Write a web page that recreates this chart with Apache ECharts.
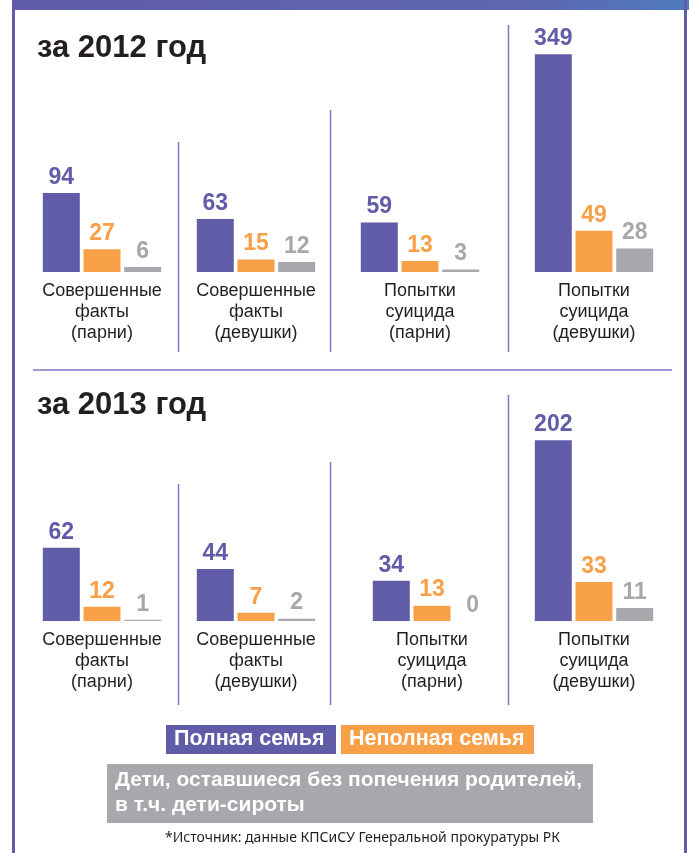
<!DOCTYPE html>
<html lang="ru">
<head>
    <meta charset="UTF-8">
    <title>за 2012 / 2013 год</title>
    <script src="https://cdn.jsdelivr.net/npm/echarts@6/dist/echarts.min.js"></script>
</head>
<body style="padding: 0; margin: 0; background: #fff">
    <div id="main" style="width: 689px; height: 853px;"></div>
</body>
<script>
    // categories (one small chart per category)
    var categories = [
        'Совершенные\nфакты\n(парни)',
        'Совершенные\nфакты\n(девушки)',
        'Попытки\nсуицида\n(парни)',
        'Попытки\nсуицида\n(девушки)'
    ];
    var seriesNames = ['Полная семья', 'Неполная семья', 'Дети, оставшиеся без попечения родителей,\nв т.ч. дети-сироты'];

    var full2012 = [94, 63, 59, 349];
    var partial2012 = [27, 15, 13, 49];
    var orphans2012 = [6, 12, 3, 28];

    var full2013 = [62, 44, 34, 202];
    var partial2013 = [12, 7, 13, 33];
    var orphans2013 = [1, 2, 0, 11];

    var colors = ['#615ca8', '#f8a047', '#a7a8ab'];
    var font = '"Liberation Sans", Arial, sans-serif';

    var myChart = echarts.init(document.getElementById('main'));

    // panel layout: bar baseline, grid top, axis max, centers of groups, break on the tall group
    var panels = [
        {data: [full2012, partial2012, orphans2012], base: 272, top: 40, max: 276,
            centers: [102, 256, 420, 594], brk: {start: 100, end: 190}},
        {data: [full2013, partial2013, orphans2013], base: 621, top: 400, max: 187,
            centers: [102, 256, 432, 594], brk: {start: 50, end: 99}}
    ];

    var grids = [], xAxes = [], yAxes = [], series = [];
    panels.forEach(function (p) {
        for (var c = 0; c < categories.length; c++) {
            var idx = grids.length;
            var last = c === categories.length - 1;
            grids.push({left: p.centers[c] - 70, width: 140, top: p.top, bottom: 853 - p.base});
            xAxes.push({
                type: 'category', gridIndex: idx, data: [categories[c]],
                axisLine: {show: false}, axisTick: {show: false},
                axisLabel: {interval: 0, margin: 9, fontSize: 18, lineHeight: 21, color: '#231f20', fontFamily: font}
            });
            var y = {type: 'value', gridIndex: idx, min: 0, show: false, splitLine: {show: false}};
            if (last) {
                // the tall bar is drawn on a broken scale, like in the original
                y.max = p.max + (p.brk.end - p.brk.start);
                y.breaks = [{start: p.brk.start, end: p.brk.end, gap: 0}];
                y.breakArea = {show: false};
            } else {
                y.max = p.max;
            }
            yAxes.push(y);
            for (var s = 0; s < 3; s++) {
                series.push({
                    name: seriesNames[s], type: 'bar', xAxisIndex: idx, yAxisIndex: idx,
                    barWidth: 37, barGap: '10%',
                    itemStyle: {color: colors[s]},
                    label: {show: true, position: 'top', distance: 4, color: colors[s],
                        fontSize: 23, fontWeight: 'bold', fontFamily: font},
                    data: [p.data[s][c]]
                });
            }
        }
    });

    var divider = '#7d77c2';
    function vline(x, y1, y2) {
        return {type: 'line', shape: {x1: x, y1: y1, x2: x, y2: y2}, style: {stroke: divider, lineWidth: 1.5}};
    }

    var option = {
        animation: false,
        grid: grids,
        xAxis: xAxes,
        yAxis: yAxes,
        series: series,
        graphic: [
            // frame
            {type: 'rect', shape: {x: 12, y: 0, width: 677, height: 10},
                style: {fill: new echarts.graphic.LinearGradient(0, 0, 1, 0, [
                    {offset: 0, color: '#615ca8'}, {offset: 0.75, color: '#5d66ae'}, {offset: 1, color: '#4f7bbf'}])}},
            {type: 'rect', shape: {x: 12, y: 0, width: 3, height: 853}, style: {fill: '#615ca8'}},
            {type: 'rect', shape: {x: 684, y: 0, width: 3, height: 853}, style: {fill: '#615ca8'}},
            // titles
            {type: 'text', left: 37, top: 33, style: {text: 'за 2012 год', fontSize: 31, fontWeight: 'bold', fill: '#231f20', fontFamily: font}},
            {type: 'text', left: 37, top: 390, style: {text: 'за 2013 год', fontSize: 31, fontWeight: 'bold', fill: '#231f20', fontFamily: font}},
            // dividers
            vline(178.5, 142, 352), vline(330.5, 110, 352), vline(508.5, 25, 352),
            vline(178.5, 484, 705), vline(330.5, 462, 705), vline(508.5, 395, 705),
            {type: 'line', shape: {x1: 33, y1: 370, x2: 672, y2: 370}, style: {stroke: divider, lineWidth: 1.5}},
            // legend
            {type: 'rect', shape: {x: 166, y: 725, width: 170, height: 29}, style: {fill: colors[0]}},
            {type: 'text', left: 174, top: 728, style: {text: seriesNames[0], fontSize: 21.5, fontWeight: 'bold', fill: '#fff', fontFamily: font}},
            {type: 'rect', shape: {x: 341, y: 725, width: 193, height: 29}, style: {fill: colors[1]}},
            {type: 'text', left: 349, top: 728, style: {text: seriesNames[1], fontSize: 21.5, fontWeight: 'bold', fill: '#fff', fontFamily: font}},
            {type: 'rect', shape: {x: 107, y: 764, width: 486, height: 59}, style: {fill: colors[2]}},
            {type: 'text', left: 115, top: 768, style: {text: seriesNames[2], fontSize: 21, lineHeight: 25, fontWeight: 'bold', fill: '#fff', fontFamily: font}},
            // source
            {type: 'text', left: 165, top: 831, style: {text: '*Источник: данные КПСиСУ Генеральной прокуратуры РК', fontSize: 14, fill: '#231f20', fontFamily: '"Liberation Sans Narrow", "Noto Sans", sans-serif'}}
        ]
    };
    myChart.setOption(option);
</script>
</html>
